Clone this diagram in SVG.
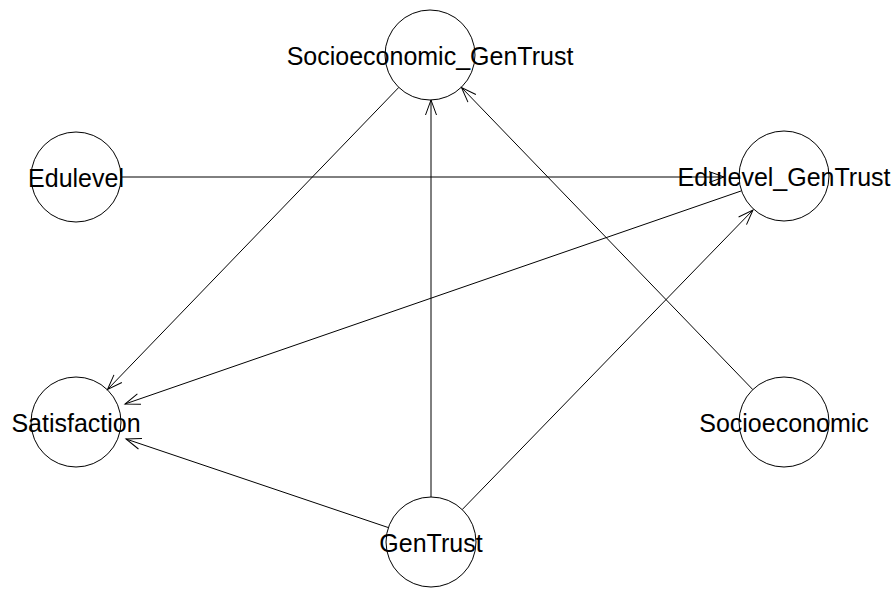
<svg xmlns="http://www.w3.org/2000/svg" width="895" height="591" viewBox="0 0 895 591">
<style>
.node circle{fill:none;stroke:#000;stroke-width:1}
.node text{font-family:"Liberation Sans",Arial,sans-serif;font-size:25px;fill:#000;text-anchor:middle}
.edges line{stroke:#000;stroke-width:1;marker-end:url(#arr)}
</style>
<defs>
<marker id="arr" markerUnits="userSpaceOnUse" markerWidth="20" markerHeight="14" refX="16" refY="7" orient="auto" overflow="visible">
<path d="M1,1.5 L16,7 L1,12.5" fill="none" stroke="#000" stroke-width="1"/>
</marker>
</defs>
<rect width="895" height="591" fill="#fff"/>
<g class="edges" id="edges">
<line x1="398.8" y1="87.4" x2="107.5" y2="389.5"/>
<line x1="121" y1="177" x2="724" y2="177"/>
<line x1="741" y1="191" x2="125" y2="404"/>
<line x1="388.4" y1="527.6" x2="126" y2="439"/>
<line x1="431" y1="497" x2="431" y2="100"/>
<line x1="462.2" y1="509.6" x2="753" y2="210"/>
<line x1="752.8" y1="389.6" x2="461.5" y2="87.5"/>
</g>
<g class="node" id="Socioeconomic_GenTrust"><circle cx="430" cy="55" r="45"/><text x="430" y="65">Socioeconomic_GenTrust</text></g>
<g class="node" id="Edulevel_GenTrust"><circle cx="784" cy="176" r="45"/><text x="784" y="186">Edulevel_GenTrust</text></g>
<g class="node" id="Edulevel"><circle cx="76" cy="177" r="45"/><text x="76" y="187">Edulevel</text></g>
<g class="node" id="Satisfaction"><circle cx="76" cy="422" r="45"/><text x="76" y="432">Satisfaction</text></g>
<g class="node" id="GenTrust"><circle cx="431" cy="542" r="45"/><text x="431" y="552">GenTrust</text></g>
<g class="node" id="Socioeconomic"><circle cx="784" cy="422" r="45"/><text x="784" y="432">Socioeconomic</text></g>
</svg>
